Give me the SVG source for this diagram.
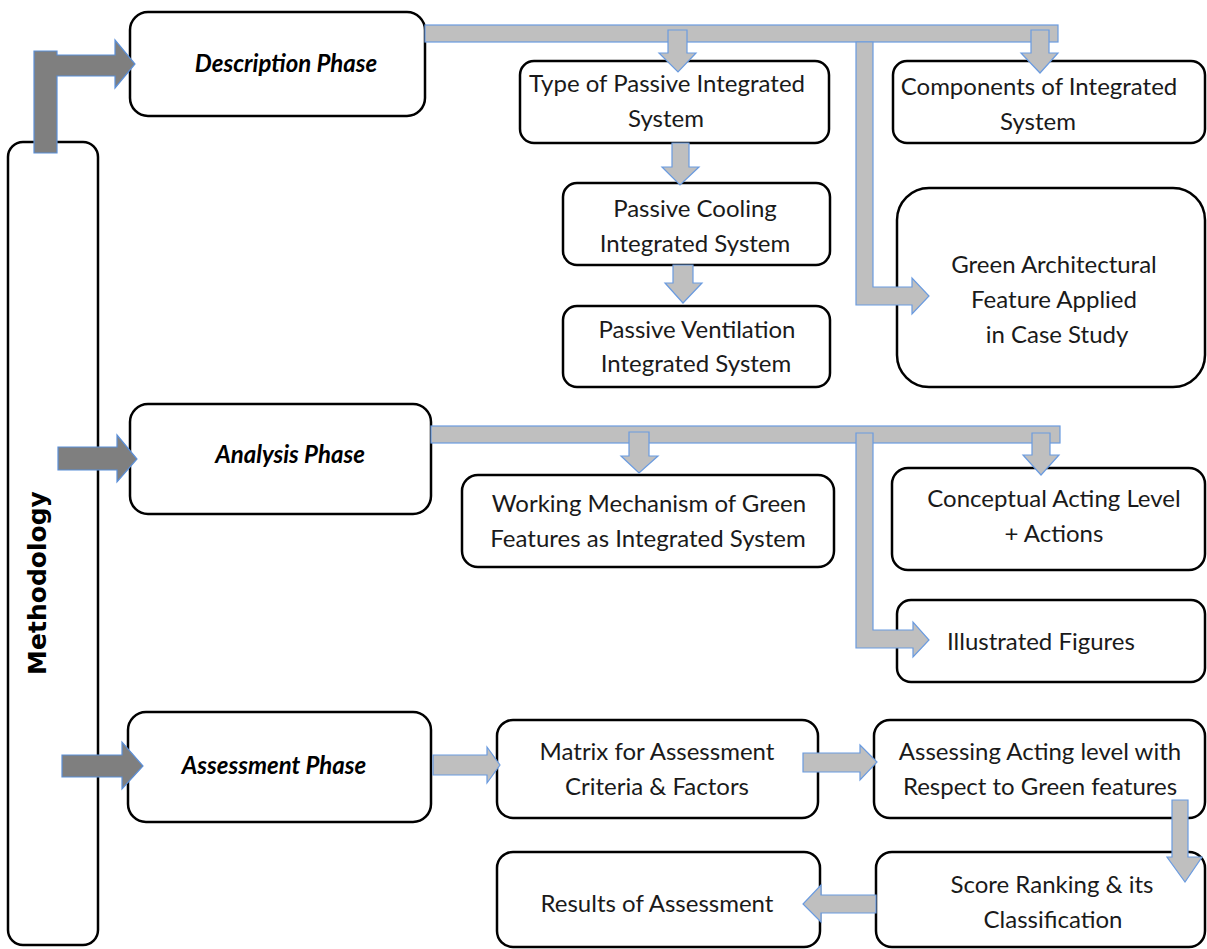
<svg xmlns="http://www.w3.org/2000/svg" width="1207" height="949" viewBox="0 0 1207 949">
<style>
.box{fill:#ffffff;stroke:#000000;stroke-width:2.5}
.t{font-family:Lato,"Open Sans",sans-serif;font-size:24px;fill:#1a1a1a;text-anchor:middle}
.ph{font-family:Lato,"Open Sans",sans-serif;font-size:24px;font-weight:bold;font-style:italic;fill:#000;text-anchor:middle}
.meth{font-family:"DejaVu Sans",sans-serif;font-size:25px;font-weight:bold;fill:#000;text-anchor:middle}
.dk{fill:#7f7f7f;stroke:#5b8fd8;stroke-width:1.2}
.lt{fill:#bfbfbf;stroke:#6a9be0;stroke-width:1.2}
</style>
<g id="n-methodology">
<rect class="box" x="8" y="142" width="90" height="803" rx="15"/>
<text class="meth" transform="translate(46,583) rotate(-90)">Methodology</text>
</g>
<g id="n-description">
<rect class="box" x="130" y="12" width="295" height="104" rx="18"/>
<text class="ph" x="286" y="72">Description  Phase</text>
</g>
<g id="n-analysis">
<rect class="box" x="130" y="404" width="301" height="110" rx="18"/>
<text class="ph" x="290" y="463">Analysis Phase</text>
</g>
<g id="n-assessment">
<rect class="box" x="128" y="712" width="303" height="110" rx="18"/>
<text class="ph" x="274" y="774">Assessment  Phase</text>
</g>
<g id="n-type">
<rect class="box" x="520" y="61" width="309" height="82" rx="14"/>
<text class="t" x="667" y="92">Type of Passive Integrated</text>
<text class="t" x="666" y="127">System</text>
</g>
<g id="n-cooling">
<rect class="box" x="563" y="183" width="267" height="82" rx="14"/>
<text class="t" x="695" y="217">Passive Cooling</text>
<text class="t" x="695" y="252">Integrated System</text>
</g>
<g id="n-ventilation">
<rect class="box" x="563" y="306" width="267" height="81" rx="14"/>
<text class="t" x="697" y="338">Passive Ventilation</text>
<text class="t" x="696" y="372">Integrated System</text>
</g>
<g id="n-components">
<rect class="box" x="893" y="61" width="312" height="82" rx="14"/>
<text class="t" x="1039" y="95">Components  of Integrated</text>
<text class="t" x="1038" y="130">System</text>
</g>
<g id="n-green">
<rect class="box" x="897" y="188" width="308" height="199" rx="32"/>
<text class="t" x="1054" y="273">Green Architectural</text>
<text class="t" x="1054" y="308">Feature Applied</text>
<text class="t" x="1057" y="343">in Case Study</text>
</g>
<g id="n-working">
<rect class="box" x="462" y="475" width="372" height="92" rx="16"/>
<text class="t" x="649" y="512">Working Mechanism  of Green</text>
<text class="t" x="648" y="547">Features as Integrated System</text>
</g>
<g id="n-conceptual">
<rect class="box" x="892" y="468" width="313" height="102" rx="16"/>
<text class="t" x="1054" y="507">Conceptual  Acting Level</text>
<text class="t" x="1054" y="542">+ Actions</text>
</g>
<g id="n-illustrated">
<rect class="box" x="897" y="600" width="308" height="82" rx="14"/>
<text class="t" x="1041" y="650">Illustrated Figures</text>
</g>
<g id="n-matrix">
<rect class="box" x="497" y="720" width="321" height="98" rx="16"/>
<text class="t" x="657" y="760">Matrix for Assessment</text>
<text class="t" x="657" y="795">Criteria &amp; Factors</text>
</g>
<g id="n-assessing">
<rect class="box" x="874" y="720" width="331" height="98" rx="16"/>
<text class="t" x="1040" y="760">Assessing  Acting level with</text>
<text class="t" x="1040" y="795">Respect  to Green  features</text>
</g>
<g id="n-results">
<rect class="box" x="497" y="852" width="323" height="95" rx="16"/>
<text class="t" x="657" y="912">Results of Assessment</text>
</g>
<g id="n-score">
<rect class="box" x="876" y="852" width="329" height="95" rx="16"/>
<text class="t" x="1052" y="893">Score Ranking &amp; its</text>
<text class="t" x="1053" y="928">Classification</text>
</g>
<g id="connectors">
<polygon class="dk" points="34,51 57,51 57,55 115,55 115,40 135,64 115,88 115,76 57,76 57,153 34,153"/>
<polygon class="dk" points="58,447 117,447 117,435 137,459 117,482 117,470 58,470"/>
<polygon class="dk" points="62,755 122,755 122,742 143,766 122,789 122,777 62,777"/>
<rect class="lt" x="425" y="25" width="633" height="17"/>
<polygon class="lt" points="668,30 687,30 687,53 696,53 678,72 659,53 668,53"/>
<polygon class="lt" points="1031,30 1049,30 1049,53 1058,53 1040,73 1021,53 1031,53"/>
<polygon class="lt" points="856,42 873,42 873,287 912,287 912,278 929,296 912,314 912,305 856,305"/>
<polygon class="lt" points="672,143 689,143 689,167 699,167 680,185 662,167 672,167"/>
<polygon class="lt" points="673,265 693,265 693,283 702,283 683,303 665,283 673,283"/>
<rect class="lt" x="431" y="426" width="629" height="17"/>
<polygon class="lt" points="629,432 649,432 649,456 658,456 639,473 621,456 629,456"/>
<polygon class="lt" points="1032,433 1050,433 1050,455 1059,455 1041,475 1023,455 1032,455"/>
<polygon class="lt" points="856,433 873,433 873,630 913,630 913,622 929,640 913,657 913,648 856,648"/>
<polygon class="lt" points="433,755 487,755 487,747 500,765 487,783 487,775 433,775"/>
<polygon class="lt" points="803,753 860,753 860,745 877,762 860,780 860,772 803,772"/>
<polygon class="lt" points="1172,800 1188,800 1188,857 1202,857 1185,882 1167,857 1172,857"/>
<polygon class="lt" points="876,895 821,895 821,885 803,904 821,922 821,913 876,913"/>
</g>
</svg>
